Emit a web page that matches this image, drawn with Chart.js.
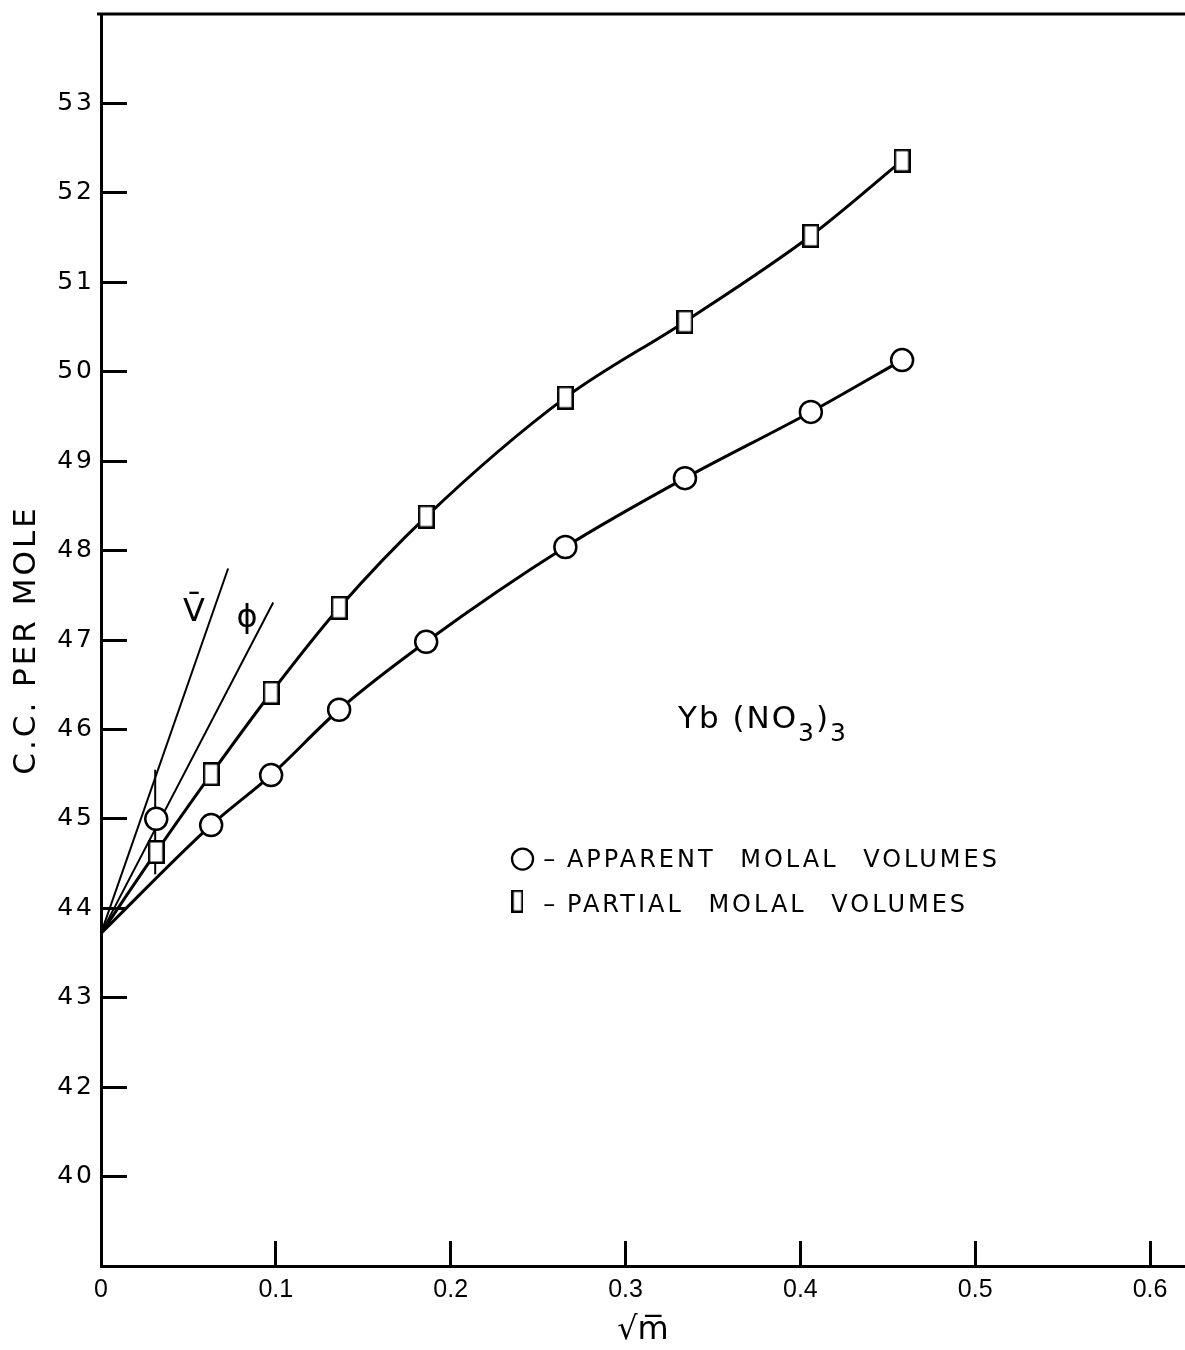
<!DOCTYPE html>
<html>
<head>
<meta charset="utf-8">
<title>Yb(NO3)3 molal volumes</title>
<script src="https://cdn.jsdelivr.net/npm/chart.js@4/dist/chart.umd.min.js"></script>
<style>
  html, body { margin: 0; padding: 0; background: #fff; overflow: hidden; }
  #wrap { width: 1185px; height: 1350px; position: relative; }
  #chart { display: block; }
</style>
</head>
<body>
<div id="wrap"><canvas id="chart"></canvas></div>
<script>
// square root of molality for each solution
const sqrtM = [0.0316, 0.0630, 0.0973, 0.1362, 0.1860, 0.2656, 0.3340, 0.4060, 0.4582];
// apparent molal volume (circles), cc per mole
const apparentVol = [45.00, 44.93, 45.49, 46.22, 46.98, 48.04, 48.81, 49.55, 50.13];
// partial molal volume (squares), cc per mole
const partialVol = [44.63, 45.50, 46.41, 47.36, 48.38, 49.71, 50.56, 51.52, 52.36];
// common limiting value at infinite dilution
const limitingVol = 43.72;
// limiting-slope lines for V-bar and phi: end points
const vbarSlopeEnd = [0.0727, 47.80];
const phiSlopeEnd = [0.0985, 47.42];
// uncertainty bar on the most dilute solution
const errorBarX = 0.031;
const errorBarY = [44.38, 45.55];

// axis ticks
const yTickValues = [41, 42, 43, 44, 45, 46, 47, 48, 49, 50, 51, 52, 53];
const yTickLabels = ['40', '42', '43', '44', '45', '46', '47', '48', '49', '50', '51', '52', '53'];
const xTickValues = [0, 0.1, 0.2, 0.3, 0.4, 0.5, 0.6];
const xTickLabels = ['0', '0.1', '0.2', '0.3', '0.4', '0.5', '0.6'];

const pts = (xs, ys) => xs.map((v, i) => ({ x: v, y: ys[i] }));
const origin = { x: 0, y: limitingVol };

// rectangular marker used for partial molal volumes
function boxMarker(w, h, lw) {
  const c = document.createElement('canvas');
  c.width = w; c.height = h;
  const g = c.getContext('2d');
  g.fillStyle = '#fff';
  g.fillRect(0, 0, w, h);
  g.strokeStyle = '#000';
  g.lineWidth = lw;
  g.strokeRect(lw / 2, lw / 2, w - lw, h - lw);
  return c;
}
const squareMark = boxMarker(17, 24, 2.5);
const legendSquare = boxMarker(12, 23, 2.3);

// anchor points (data units) for the hand labels
const labelAt = {
  vbar: [0.0532, 47.30],
  phi: [0.0835, 47.24],
  formula: [0.3300, 46.02],
  legendCircle: [0.2411, 44.55],
  legendDash1: [0.2530, 44.46],
  legendText1: [0.2665, 44.46],
  legendSquare: [0.2382, 44.08],
  legendDash2: [0.2530, 43.96],
  legendText2: [0.2665, 43.96]
};

const FONT = '"DejaVu Sans", "Liberation Sans", sans-serif';

// wide lettering for y labels and titles; tight for the x tick labels
const spacing = {
  id: 'spacing',
  beforeDraw(chart) { chart.ctx.letterSpacing = '3px'; },
  beforeDatasetsDraw(chart) { chart.ctx.letterSpacing = '0px'; }
};

// closing line along the top of the plotting frame
const frameTop = {
  id: 'frameTop',
  beforeDatasetsDraw(chart) {
    const { ctx, chartArea: a } = chart;
    ctx.save();
    ctx.strokeStyle = '#000';
    ctx.lineWidth = 3;
    ctx.beginPath();
    ctx.moveTo(a.left - 4, a.top);
    ctx.lineTo(a.right, a.top);
    ctx.stroke();
    ctx.restore();
  }
};

const notes = {
  id: 'notes',
  afterDraw(chart) {
    const { ctx, scales: { x, y } } = chart;
    const px = v => x.getPixelForValue(v);
    const py = v => y.getPixelForValue(v);
    ctx.save();
    ctx.fillStyle = '#000';
    ctx.strokeStyle = '#000';

    // slope line labels
    ctx.letterSpacing = '0px';
    ctx.textAlign = 'center';
    ctx.textBaseline = 'middle';
    ctx.font = '32px ' + FONT;
    ctx.fillText('V\u0304', px(labelAt.vbar[0]), py(labelAt.vbar[1]));
    ctx.fillText('\u03D5', px(labelAt.phi[0]), py(labelAt.phi[1]));

    // salt formula with lowered subscripts
    ctx.textAlign = 'left';
    ctx.textBaseline = 'alphabetic';
    ctx.letterSpacing = '2px';
    let fx = px(labelAt.formula[0]);
    const fy = py(labelAt.formula[1]);
    const parts = [['Yb (NO', 31, 0], ['3', 25, 13], [')', 31, 0], ['3', 25, 13]];
    for (const [t, s, dy] of parts) {
      ctx.font = s + 'px ' + FONT;
      ctx.fillText(t, fx, fy + dy);
      fx += ctx.measureText(t).width;
    }

    // key
    ctx.lineWidth = 2.3;
    ctx.beginPath();
    ctx.arc(px(labelAt.legendCircle[0]), py(labelAt.legendCircle[1]), 10.5, 0, Math.PI * 2);
    ctx.fillStyle = '#fff';
    ctx.fill();
    ctx.stroke();
    ctx.drawImage(legendSquare,
      px(labelAt.legendSquare[0]) - legendSquare.width / 2,
      py(labelAt.legendSquare[1]) - legendSquare.height / 2);
    ctx.fillStyle = '#000';
    ctx.font = '24px ' + FONT;
    ctx.letterSpacing = '0px';
    ctx.fillText('\u2013', px(labelAt.legendDash1[0]), py(labelAt.legendDash1[1]));
    ctx.fillText('\u2013', px(labelAt.legendDash2[0]), py(labelAt.legendDash2[1]));
    ctx.letterSpacing = '3px';
    ctx.wordSpacing = '14px';
    ctx.fillText('APPARENT MOLAL VOLUMES', px(labelAt.legendText1[0]), py(labelAt.legendText1[1]));
    ctx.fillText('PARTIAL MOLAL VOLUMES', px(labelAt.legendText2[0]), py(labelAt.legendText2[1]));
    ctx.restore();
  }
};

const black = '#000';
new Chart(document.getElementById('chart'), {
  type: 'scatter',
  data: {
    datasets: [
      {
        label: 'APPARENT MOLAL VOLUMES',
        data: pts(sqrtM, apparentVol),
        showLine: false,
        pointStyle: 'circle',
        pointRadius: 11,
        pointBorderWidth: 2.5,
        pointBackgroundColor: '#fff',
        pointBorderColor: black
      },
      {
        label: 'PARTIAL MOLAL VOLUMES',
        data: pts(sqrtM, partialVol),
        showLine: false,
        pointStyle: squareMark,
        pointRadius: 12
      },
      {
        label: 'apparent curve',
        data: [origin, ...pts(sqrtM.slice(1), apparentVol.slice(1))],
        showLine: true,
        borderColor: black,
        borderWidth: 3,
        cubicInterpolationMode: 'monotone',
        pointRadius: 0
      },
      {
        label: 'partial curve',
        data: [origin, ...pts(sqrtM, partialVol)],
        showLine: true,
        borderColor: black,
        borderWidth: 3,
        cubicInterpolationMode: 'monotone',
        pointRadius: 0
      },
      {
        label: 'V-bar limiting slope',
        data: [origin, { x: vbarSlopeEnd[0], y: vbarSlopeEnd[1] }],
        showLine: true,
        borderColor: black,
        borderWidth: 2,
        pointRadius: 0
      },
      {
        label: 'phi limiting slope',
        data: [origin, { x: phiSlopeEnd[0], y: phiSlopeEnd[1] }],
        showLine: true,
        borderColor: black,
        borderWidth: 2,
        pointRadius: 0
      },
      {
        label: 'uncertainty',
        data: [{ x: errorBarX, y: errorBarY[0] }, { x: errorBarX, y: errorBarY[1] }],
        showLine: true,
        borderColor: black,
        borderWidth: 2,
        pointRadius: 0
      }
    ]
  },
  options: {
    responsive: true,
    maintainAspectRatio: false,
    devicePixelRatio: 1,
    animation: false,
    events: [],
    layout: { autoPadding: false, padding: { top: 14, right: 0, bottom: 0, left: 0 } },
    plugins: {
      legend: { display: false },
      tooltip: { enabled: false },
      title: { display: false }
    },
    scales: {
      x: {
        type: 'linear',
        position: 'bottom',
        min: 0,
        max: 0.62,
        afterBuildTicks: s => { s.ticks = xTickValues.map(v => ({ value: v })); },
        afterFit: s => { s.height = 84; s.paddingLeft = 0; s.paddingRight = 0; },
        ticks: {
          callback: (v, i) => xTickLabels[i],
          font: { family: 'Liberation Sans', size: 25 },
          color: black,
          padding: 34,
          maxRotation: 0,
          autoSkip: false,
          z: 1
        },
        grid: { drawOnChartArea: false, tickLength: -25, tickWidth: 3, tickColor: black, z: 1 },
        border: { display: true, width: 3, color: black, z: 1 },
        title: {
          display: true,
          text: '\u221Am\u0305',
          font: { family: 'DejaVu Sans', size: 32 },
          color: black,
          padding: { top: 0, bottom: 0 }
        }
      },
      y: {
        type: 'linear',
        position: 'left',
        min: 40,
        max: 54,
        afterBuildTicks: s => { s.ticks = yTickValues.map(v => ({ value: v })); },
        afterFit: s => { s.width = 101; s.paddingTop = 0; s.paddingBottom = 0; },
        ticks: {
          callback: (v, i) => yTickLabels[i],
          font: { family: 'DejaVu Sans', size: 25 },
          color: black,
          padding: 32,
          autoSkip: false
        },
        grid: { drawOnChartArea: false, tickLength: -26, tickWidth: 3, tickColor: black },
        border: { display: true, width: 3, color: black },
        title: {
          display: true,
          text: 'C.C. PER MOLE',
          font: { family: 'DejaVu Sans', size: 31 },
          color: black,
          padding: { top: 8, bottom: 0 }
        }
      }
    }
  },
  plugins: [spacing, frameTop, notes]
});
</script>
</body>
</html>
